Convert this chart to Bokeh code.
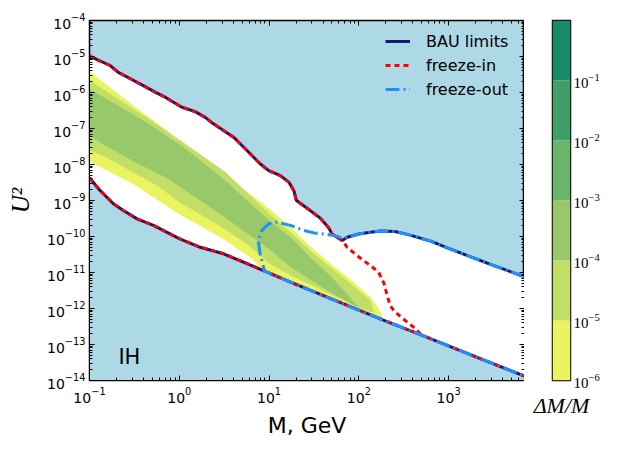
import numpy as np
from bokeh.plotting import figure
from bokeh.models import (Range1d, FixedTicker, LogAxis, CustomJSTickFormatter,
                          Label, Legend, LegendItem)
from bokeh.layouts import row
from bokeh.embed import file_html
from bokeh.resources import INLINE

# ---------------- data (log10 values) ----------------
x_lim = [0.1, 7000.0]
y_lim = [1e-14, 1e-4]
x_major = [0.1, 1, 10, 100, 1000]
y_major = [1e-14, 1e-13, 1e-12, 1e-11, 1e-10, 1e-9, 1e-8, 1e-7, 1e-6, 1e-5, 1e-4]

# BAU upper boundary (left part, up to the junction)
upper_logM = [-1.0, -0.976, -0.771, -0.679, -0.529, -0.40, -0.269, -0.157, 0.029, 0.177, 0.289,
              0.38, 0.605, 0.754, 0.90, 0.996, 1.126, 1.22, 1.275, 1.305, 1.42, 1.57, 1.665, 1.70, 1.815]
upper_logU = [-4.97, -5.02, -5.25, -5.44, -5.64, -5.81, -5.99, -6.13, -6.41, -6.53, -6.69,
              -6.87, -7.24, -7.61, -7.98, -8.17, -8.31, -8.49, -8.72, -9.0, -9.21, -9.49, -9.76, -9.93, -10.11]
# BAU / freeze-out hump (right part)
hump_logM = [1.87, 2.0, 2.13, 2.24, 2.40, 2.54, 2.80, 3.0, 3.21, 3.43, 3.845]
hump_logU = [-10.02, -9.93, -9.88, -9.85, -9.86, -9.94, -10.13, -10.33, -10.53, -10.74, -11.12]
# lower boundary
lower_logM = [-1.0, -0.883, -0.734, -0.623, -0.47, -0.288, 0.0, 0.233, 0.493, 0.95, 0.978, 1.24,
              2.28, 2.70, 3.36, 3.845]
lower_logU = [-8.37, -8.72, -9.09, -9.28, -9.51, -9.69, -10.06, -10.30, -10.48, -10.96, -10.99, -11.27,
              -12.33, -12.74, -13.40, -13.88]
# freeze-in: descent from junction to lower boundary
fin_logM = [1.815, 1.87, 1.98, 2.13, 2.22, 2.28, 2.31, 2.35, 2.39, 2.47, 2.61, 2.70]
fin_logU = [-10.11, -10.30, -10.53, -10.81, -10.99, -11.30, -11.59, -11.92, -12.06, -12.24, -12.52, -12.74]
# freeze-out: loop from hump back to lower boundary
fout_logM = [1.83, 1.72, 1.61, 1.50, 1.386, 1.238, 1.09, 0.995, 0.92, 0.88, 0.90, 0.95]
fout_logU = [-10.05, -9.97, -9.93, -9.90, -9.83, -9.69, -9.60, -9.65, -9.83, -10.11, -10.48, -10.96]

# Delta M / M filled contours: (top edge, bottom edge), left to right
yel_top_logM = [-1.0, -0.5, 0.0, 0.5, 1.0, 1.24, 1.46, 1.68, 1.9, 2.13, 2.22, 2.28]
yel_top_logU = [-5.42, -6.38, -7.32, -8.27, -9.22, -9.74, -10.28, -10.74, -11.18, -11.69, -12.0, -12.33]
yel_bot_logM = [-1.0, -0.5, 0.0, 0.5, 0.8, 1.0, 2.28]
yel_bot_logU = [-7.92, -8.56, -9.38, -10.08, -10.6, -11.1, -12.45]

lgr_top_logM = [-1.0, -0.68, -0.31, 0.07, 0.51, 1.0, 1.24, 1.46, 1.68, 1.91, 2.13, 2.17]
lgr_top_logU = [-5.67, -6.18, -6.78, -7.43, -8.2, -9.36, -9.88, -10.39, -10.85, -11.31, -11.78, -12.1]
lgr_bot_logM = [-1.0, -0.83, -0.49, -0.24, 0.0, 0.38, 0.75, 1.0, 1.24, 1.6, 2.0, 2.17]
lgr_bot_logU = [-7.61, -7.78, -8.25, -8.6, -9.05, -9.6, -10.2, -10.75, -11.08, -11.5, -11.98, -12.12]

mgr_top_logM = [-1.0, -0.68, -0.31, 0.07, 0.5, 1.0, 1.24, 1.46, 1.68, 1.85, 1.98]
mgr_top_logU = [-5.90, -6.36, -6.92, -7.56, -8.42, -9.55, -10.02, -10.58, -11.08, -11.55, -11.92]
mgr_bot_logM = [-1.0, -0.83, -0.49, -0.12, 0.5, 1.0, 1.24, 1.68, 1.98]
mgr_bot_logU = [-7.19, -7.47, -7.94, -8.40, -9.45, -10.35, -10.85, -11.55, -11.95]

cb_levels = [1e-6, 1e-5, 1e-4, 1e-3, 1e-2, 1e-1, 1.0]
cb_colors = ["#e9f460", "#c1de69", "#97c96b", "#6ab569", "#409e69", "#178a69"]
cb_ticks = [1e-6, 1e-5, 1e-4, 1e-3, 1e-2, 1e-1]

# ---------------- helpers ----------------
def p10(a):
    return np.power(10.0, np.asarray(a, dtype=float))

BG = "#add8e6"
NAVY = "#191970"
RED = "#ff0000"
BLUE = "#1e90ff"

p = figure(x_axis_type="log", y_axis_type="log",
           x_range=Range1d(*x_lim), y_range=Range1d(*y_lim),
           frame_width=435, frame_height=360,
           min_border_left=89, min_border_right=0, min_border_top=20, min_border_bottom=60,
           output_backend="svg", toolbar_location=None)
p.background_fill_color = BG
p.border_fill_color = "white"
p.outline_line_color = "black"
p.outline_line_width = 1.5
p.grid.visible = False

x_minor = [k * m for m in x_major for k in range(2, 10) if k * m <= x_lim[1]]
y_minor = [k * m for m in y_major[:-1] for k in range(2, 10)]
xt = FixedTicker(ticks=x_major, minor_ticks=x_minor)
yt = FixedTicker(ticks=y_major, minor_ticks=y_minor)

def style_axis(ax):
    ax.major_tick_in = 5
    ax.major_tick_out = 0
    ax.minor_tick_in = 3
    ax.minor_tick_out = 0
    ax.major_tick_line_color = "black"
    ax.minor_tick_line_color = "black"
    ax.axis_line_color = "black"
    ax.major_label_text_font = "DejaVu Sans"
    ax.major_label_text_font_size = "14px"
    ax.major_label_text_color = "black"
    ax.axis_label_text_color = "black"

for ax in p.xaxis:
    ax.ticker = xt
    style_axis(ax)
    ax.major_label_standoff = 6
    ax.axis_label = "M, GeV"
    ax.axis_label_text_font = "DejaVu Sans"
    ax.axis_label_text_font_style = "normal"
    ax.axis_label_text_font_size = "22px"
    ax.axis_label_standoff = 7
for ax in p.yaxis:
    ax.ticker = yt
    style_axis(ax)
    ax.major_label_standoff = 4
    ax.axis_label = "U²"
    ax.axis_label_text_font = "Liberation Serif"
    ax.axis_label_text_font_style = "italic"
    ax.axis_label_text_font_size = "25px"
    ax.axis_label_standoff = 10

blank = CustomJSTickFormatter(code="return ''")
top_ax = LogAxis(ticker=xt, formatter=blank, major_label_standoff=0)
right_ax = LogAxis(ticker=yt, formatter=blank, major_label_standoff=0)
style_axis(top_ax)
style_axis(right_ax)
p.add_layout(top_ax, "above")
p.add_layout(right_ax, "right")

# allowed (white) region
white_x = np.concatenate([p10(upper_logM), p10(hump_logM), p10(lower_logM)[::-1]])
white_y = np.concatenate([p10(upper_logU), p10(hump_logU), p10(lower_logU)[::-1]])
p.patch(white_x, white_y, fill_color="white", line_color=None)

# Delta M / M bands
for tM, tU, bM, bU, col in [
    (yel_top_logM, yel_top_logU, yel_bot_logM, yel_bot_logU, cb_colors[0]),
    (lgr_top_logM, lgr_top_logU, lgr_bot_logM, lgr_bot_logU, cb_colors[1]),
    (mgr_top_logM, mgr_top_logU, mgr_bot_logM, mgr_bot_logU, cb_colors[2]),
]:
    bx = np.concatenate([p10(tM), p10(bM)[::-1]])
    by = np.concatenate([p10(tU), p10(bU)[::-1]])
    p.patch(bx, by, fill_color=col, line_color=None)

# excluded region below the lower boundary
p.varea(x=p10(lower_logM), y1=np.full(len(lower_logM), y_lim[0]), y2=p10(lower_logU), fill_color=BG)

# BAU limits
bau_top_x = np.concatenate([p10(upper_logM), p10(hump_logM)])
bau_top_y = np.concatenate([p10(upper_logU), p10(hump_logU)])
r_bau = p.line(bau_top_x, bau_top_y, line_color=NAVY, line_width=3)
p.line(p10(lower_logM), p10(lower_logU), line_color=NAVY, line_width=3)

# freeze-in
fin_x = np.concatenate([p10(upper_logM), p10(fin_logM[1:])])
fin_y = np.concatenate([p10(upper_logU), p10(fin_logU[1:])])
r_fin = p.line(fin_x, fin_y, line_color=RED, line_width=3, line_dash="5 4")
p.line(p10(lower_logM), p10(lower_logU), line_color=RED, line_width=3, line_dash="5 4")

# freeze-out
sel = [i for i, m in enumerate(lower_logM) if m > 0.95]
fout_x = np.concatenate([p10(hump_logM)[::-1], p10(fout_logM), p10([lower_logM[i] for i in sel])])
fout_y = np.concatenate([p10(hump_logU)[::-1], p10(fout_logU), p10([lower_logU[i] for i in sel])])
r_fout = p.line(fout_x, fout_y, line_color=BLUE, line_width=3, line_dash="14 4 2 4")

legend = Legend(items=[LegendItem(label="BAU limits", renderers=[r_bau]),
                       LegendItem(label="freeze-in", renderers=[r_fin]),
                       LegendItem(label="freeze-out", renderers=[r_fout])],
                location=(296, 281), padding=0, margin=0,
                border_line_color=None, background_fill_alpha=0,
                glyph_width=25, glyph_height=20, label_height=20, label_standoff=16, spacing=4,
                label_text_font="DejaVu Sans", label_text_font_size="16px",
                label_text_color="black")
p.add_layout(legend, "center")

p.add_layout(Label(x=0.21, y=4.4e-14, text="IH", text_font="DejaVu Sans", text_font_size="21px",
                   text_color="black", text_baseline="alphabetic"))

# ---------------- colorbar ----------------
cb = figure(y_axis_type="log", x_range=Range1d(0, 1), y_range=Range1d(cb_levels[0], cb_levels[-1]),
            frame_width=18, frame_height=360, y_axis_location="right",
            min_border_left=28, min_border_right=50, min_border_top=20, min_border_bottom=60,
            output_backend="svg", toolbar_location=None)
cb.grid.visible = False
cb.outline_line_color = "black"
cb.outline_line_width = 1.5
cb.quad(left=0, right=1, bottom=cb_levels[:-1], top=cb_levels[1:], fill_color=cb_colors, line_color=None)
cb.yaxis.ticker = FixedTicker(ticks=cb_ticks, minor_ticks=[])
cb.yaxis.major_tick_in = 0
cb.yaxis.major_tick_out = 0
cb.yaxis.axis_line_color = None
cb.yaxis.major_label_standoff = 3
cb.yaxis.major_label_text_font = "Liberation Serif"
cb.yaxis.major_label_text_font_size = "15px"
cb.yaxis.major_label_text_color = "black"
cb.xaxis.ticker = FixedTicker(ticks=[])
cb.xaxis.major_tick_in = 0
cb.xaxis.major_tick_out = 0
cb.xaxis.minor_tick_in = 0
cb.xaxis.minor_tick_out = 0
cb.xaxis.axis_line_color = None
cb.xaxis.axis_label = "ΔM/M"
cb.xaxis.axis_label_text_font = "Liberation Serif"
cb.xaxis.axis_label_text_font_style = "italic"
cb.xaxis.axis_label_text_font_size = "22px"
cb.xaxis.axis_label_text_color = "black"
cb.xaxis.axis_label_standoff = 12

layout = row(p, cb)
open("out.html", "w").write(file_html(layout, INLINE))
